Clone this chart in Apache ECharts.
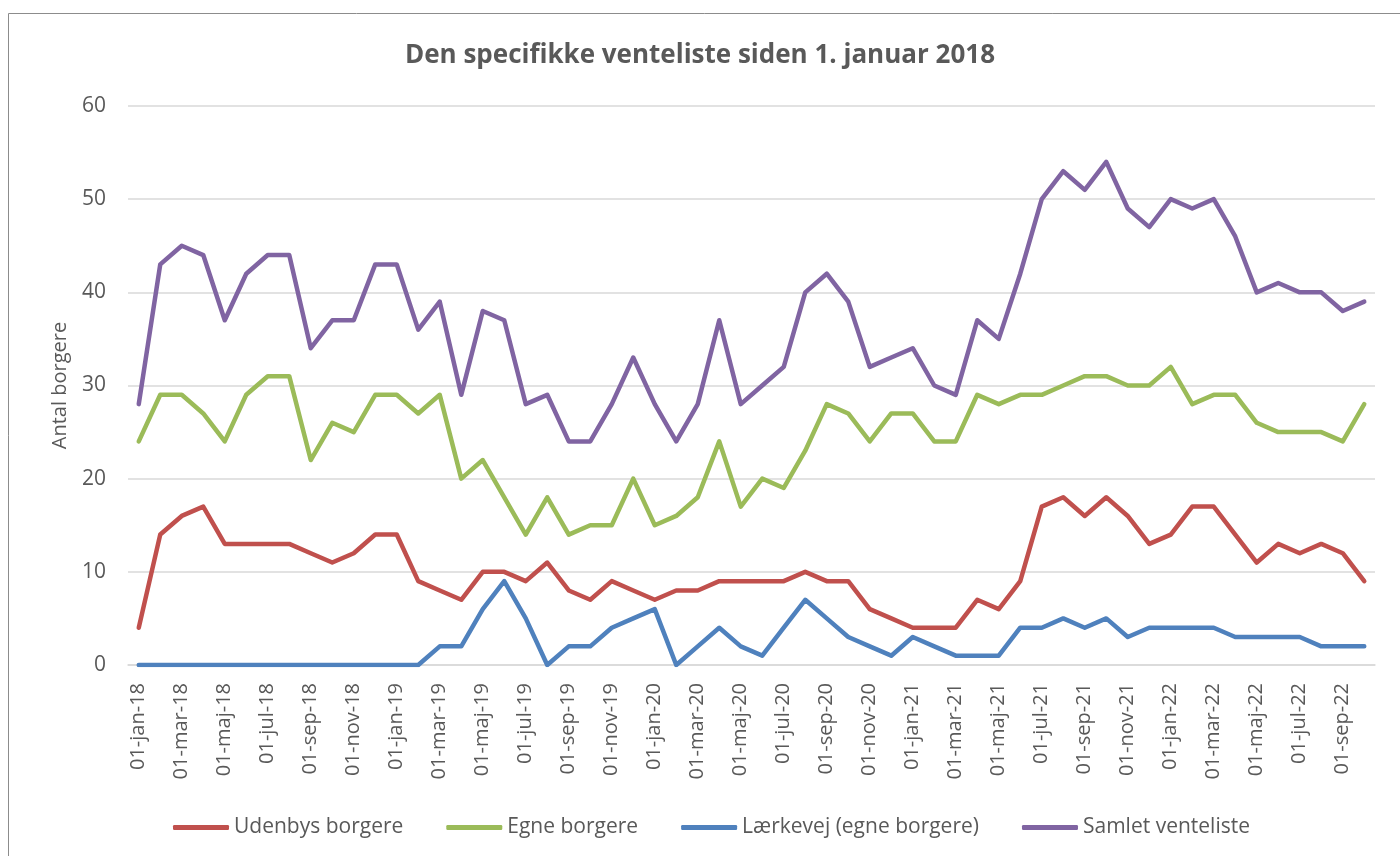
<!DOCTYPE html>
<html>
<head>
<meta charset="utf-8">
<script src="https://cdn.jsdelivr.net/npm/echarts@6/dist/echarts.min.js"></script>
<style>
  html, body { margin: 0; padding: 0; background: #fff; }
  #chart { width: 1400px; height: 856px; }
</style>
</head>
<body>
<div id="chart"></div>
<script>
// Monthly categories Jan 2018 - Oct 2022
const monthNames = ['jan', 'feb', 'mar', 'apr', 'maj', 'jun', 'jul', 'aug', 'sep', 'okt', 'nov', 'dec'];
const startYear = 18;
const monthCount = 58;

const udenbys = [4, 14, 16, 17, 13, 13, 13, 13, 12, 11, 12, 14,
    14, 9, 8, 7, 10, 10, 9, 11, 8, 7, 9, 8,
    7, 8, 8, 9, 9, 9, 9, 10, 9, 9, 6, 5,
    4, 4, 4, 7, 6, 9, 17, 18, 16, 18, 16, 13,
    14, 17, 17, 14, 11, 13, 12, 13, 12, 9];
const egne = [24, 29, 29, 27, 24, 29, 31, 31, 22, 26, 25, 29,
    29, 27, 29, 20, 22, 18, 14, 18, 14, 15, 15, 20,
    15, 16, 18, 24, 17, 20, 19, 23, 28, 27, 24, 27,
    27, 24, 24, 29, 28, 29, 29, 30, 31, 31, 30, 30,
    32, 28, 29, 29, 26, 25, 25, 25, 24, 28];
const laerkevej = [0, 0, 0, 0, 0, 0, 0, 0, 0, 0, 0, 0,
    0, 0, 2, 2, 6, 9, 5, 0, 2, 2, 4, 5,
    6, 0, 2, 4, 2, 1, 4, 7, 5, 3, 2, 1,
    3, 2, 1, 1, 1, 4, 4, 5, 4, 5, 3, 4,
    4, 4, 4, 3, 3, 3, 3, 2, 2, 2];
const samlet = [28, 43, 45, 44, 37, 42, 44, 44, 34, 37, 37, 43,
    43, 36, 39, 29, 38, 37, 28, 29, 24, 24, 28, 33,
    28, 24, 28, 37, 28, 30, 32, 40, 42, 39, 32, 33,
    34, 30, 29, 37, 35, 42, 50, 53, 51, 54, 49, 47,
    50, 49, 50, 46, 40, 41, 40, 40, 38, 39];

const seriesNames = ['Udenbys borgere', 'Egne borgere', 'Lærkevej (egne borgere)', 'Samlet venteliste'];
const seriesColors = ['#C0504D', '#9BBB59', '#4F81BD', '#8064A2'];

const categories = [];
for (let i = 0; i < monthCount; i++) {
    const y = startYear + Math.floor(i / 12);
    categories.push('01-' + monthNames[i % 12] + '-' + y);
}

const textColor = '#595959';
const fontFamily = 'Open Sans';

document.addEventListener('DOMContentLoaded', function () {
    const chart = echarts.init(document.getElementById('chart'));
    const seriesData = [udenbys, egne, laerkevej, samlet];

    const option = {
        animation: false,
        color: seriesColors,
        textStyle: { fontFamily: fontFamily },
        graphic: [{
            type: 'rect',
            shape: { x: 8.5, y: 13.5, width: 1420, height: 880 },
            style: { fill: 'none', stroke: '#8c8c8c', lineWidth: 1 }
        }],
        title: {
            text: 'Den specifikke venteliste siden 1. januar 2018',
            left: 'center',
            top: 38,
            textStyle: {
                color: textColor,
                fontSize: 26,
                fontWeight: 'bold',
                fontFamily: fontFamily
            }
        },
        legend: {
            bottom: 13,
            left: 168,
            icon: 'roundRect',
            itemWidth: 56,
            itemHeight: 5,
            itemGap: 43,
            textStyle: { color: textColor, fontSize: 21, fontFamily: fontFamily },
            data: seriesNames
        },
        grid: {
            left: 128,
            right: 25,
            top: 106,
            bottom: 191
        },
        xAxis: {
            type: 'category',
            data: categories,
            boundaryGap: true,
            axisLine: { lineStyle: { color: '#D9D9D9', width: 1.5 } },
            axisTick: {
                interval: 1,
                length: 6,
                lineStyle: { color: '#D9D9D9', width: 1.5 }
            },
            axisLabel: {
                interval: 1,
                rotate: 90,
                margin: 18,
                color: textColor,
                fontSize: 20,
                fontFamily: fontFamily
            }
        },
        yAxis: {
            type: 'value',
            min: 0,
            max: 60,
            interval: 10,
            name: 'Antal borgere',
            nameLocation: 'middle',
            nameGap: 58,
            nameTextStyle: { color: textColor, fontSize: 20, fontFamily: fontFamily },
            axisLine: { show: false },
            axisTick: { show: false },
            axisLabel: { color: textColor, fontSize: 21, margin: 22, fontFamily: fontFamily },
            splitLine: { lineStyle: { color: '#D9D9D9', width: 1.5 } }
        },
        series: seriesNames.map(function (name, idx) {
            return {
                name: name,
                type: 'line',
                data: seriesData[idx],
                symbol: 'none',
                lineStyle: { width: 4.5, color: seriesColors[idx], join: 'round', cap: 'round' }
            };
        })
    };
    chart.setOption(option);
});
</script>
</body>
</html>
